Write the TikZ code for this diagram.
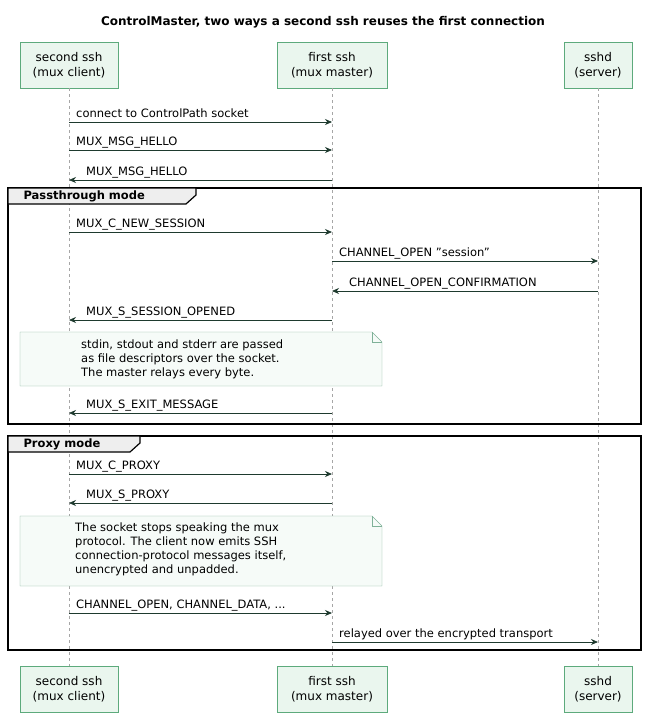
\documentclass[tikz,border=0pt]{standalone}
\usepackage{fontspec}
\setmainfont{DejaVu Sans}
\usetikzlibrary{arrows.meta,positioning}
\definecolor{partfill}{HTML}{EAF6EE}
\definecolor{partline}{HTML}{5DAA7C}
\definecolor{msgline}{HTML}{1E3A2E}
\definecolor{notefill}{HTML}{F6FBF8}
\definecolor{noteline}{HTML}{7FB198}
\definecolor{tabfill}{HTML}{EEEEEE}

\tikzset{
  partbox/.style = {draw = partline, fill = partfill, align = center, inner sep = 0pt, minimum height = 46pt, font = \fontsize{12}{15}\selectfont},
  msg/.style = {draw = msgline, line width = 0.8pt, -{Stealth[length = 7pt, width = 6pt]}},
  msgtext/.style = {font = \fontsize{11.5}{13}\selectfont, inner sep = 0pt, anchor = base west},
  life/.style = {draw = gray!70, dashed, dash pattern = on 3pt off 3pt, line width = 0.4pt},
  grouprect/.style = {draw = black, line width = 1.2pt},
  notetext/.style = {align = left, anchor = north west, inner sep = 0pt, font = \fontsize{11.5}{14}\selectfont},
}

\begin{document}
\begin{tikzpicture}[x = 1pt, y = -1pt]
        \useasboundingbox (0, 0) rectangle (647, 718);

        \node [font = \bfseries\fontsize{12}{14}\selectfont] (title) at (323, 22) {ControlMaster, two ways a second ssh reuses the first connection};

        % Participants
        \node [partbox, minimum width = 98pt] (ct) at (69, 65) {second ssh\\(mux client)};
        \node [partbox, minimum width = 110pt] (mt) at (332, 65) {first ssh\\(mux master)};
        \node [partbox, minimum width = 68pt] (st) at (598, 65) {sshd\\(server)};
        \node [partbox, minimum width = 98pt] (cb) at (69, 689) {second ssh\\(mux client)};
        \node [partbox, minimum width = 110pt] (mb) at (332, 689) {first ssh\\(mux master)};
        \node [partbox, minimum width = 68pt] (sb) at (598, 689) {sshd\\(server)};

        \draw [life] (ct) -- (cb);
        \draw [life] (mt) -- (mb);
        \draw [life] (st) -- (sb);

        % Groups
        \draw [grouprect] (8, 188) rectangle (641, 424);
        \draw [grouprect, fill = tabfill] (8, 188) -- (196, 188) -- (196, 195) -- (186, 204) -- (8, 204) -- cycle;
        \node [font = \bfseries\fontsize{11.5}{13}\selectfont, anchor = west] (g1) at (20, 196) {Passthrough mode};

        \draw [grouprect] (8, 436) rectangle (641, 650);
        \draw [grouprect, fill = tabfill] (8, 436) -- (140, 436) -- (140, 443) -- (130, 452) -- (8, 452) -- cycle;
        \node [font = \bfseries\fontsize{11.5}{13}\selectfont, anchor = west] (g2) at (20, 444) {Proxy mode};

        % Notes
        \draw [draw = noteline, fill = notefill] (20, 332) -- (372, 332) -- (382, 342) -- (382, 386) -- (20, 386) -- cycle;
        \draw [draw = noteline] (372, 332) -- (372, 342) -- (382, 342);
        \node [notetext] (n1) at (81, 340) {stdin, stdout and stderr are passed\\as file descriptors over the socket.\\The master relays every byte.};

        \draw [draw = noteline, fill = notefill] (20, 516) -- (372, 516) -- (382, 526) -- (382, 586) -- (20, 586) -- cycle;
        \draw [draw = noteline] (372, 516) -- (372, 526) -- (382, 526);
        \node [notetext] (n2) at (75, 523) {The socket stops speaking the mux\\protocol. The client now emits SSH\\connection-protocol messages itself,\\unencrypted and unpadded.};

        % Messages
        \foreach \y/\t in {122/connect to ControlPath socket, 150/MUX\_MSG\_HELLO, 232/MUX\_C\_NEW\_SESSION, 474/MUX\_C\_PROXY, 613/{CHANNEL\_OPEN, CHANNEL\_DATA, ...}}
        {
          \draw [msg] (ct |- 0, \y) -- (mt |- 0, \y);
          \node [msgtext] at (76, \y - 5) {\t};
        }
        \foreach \y/\t in {180/MUX\_MSG\_HELLO, 320/MUX\_S\_SESSION\_OPENED, 413/MUX\_S\_EXIT\_MESSAGE, 503/MUX\_S\_PROXY}
        {
          \draw [msg] (mt |- 0, \y) -- (ct |- 0, \y);
          \node [msgtext] at (86, \y - 5) {\t};
        }
        \draw [msg] (mt |- 0, 261) -- (st |- 0, 261);
        \node [msgtext] at (339, 256) {CHANNEL\_OPEN \symbol{34}session\symbol{34}};
        \draw [msg] (st |- 0, 291) -- (mt |- 0, 291);
        \node [msgtext] at (349, 286) {CHANNEL\_OPEN\_CONFIRMATION};
        \draw [msg] (mt |- 0, 642) -- (st |- 0, 642);
        \node [msgtext] at (339, 637) {relayed over the encrypted transport};

    \end{tikzpicture}
\end{document}
